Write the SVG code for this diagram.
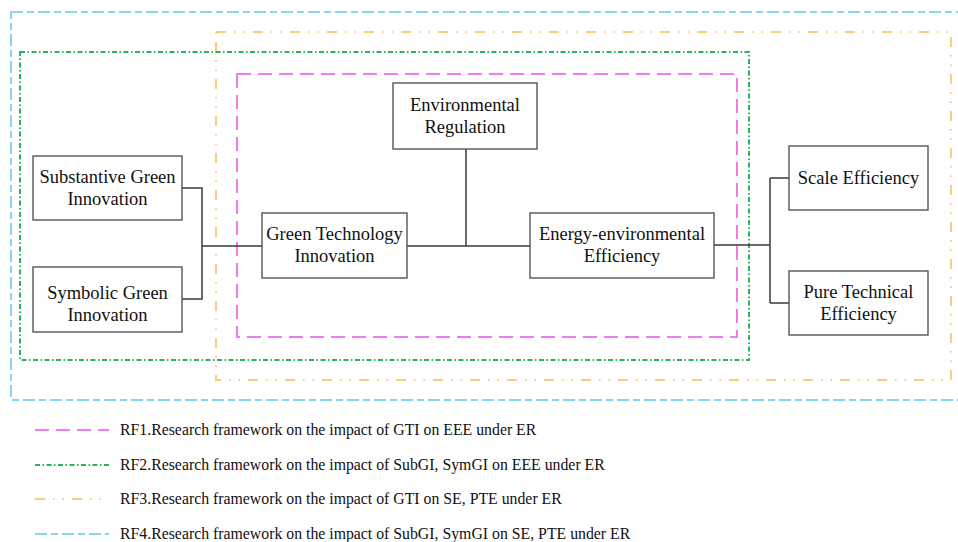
<svg xmlns="http://www.w3.org/2000/svg" width="958" height="542" viewBox="0 0 958 542">
<style>
.frame{fill:none;stroke-width:2}
.rf1{stroke:#f27af0;stroke-dasharray:14 7}
.rf2{stroke:#27b35c;stroke-dasharray:5 2.5 1.5 2.5}
.rf3{stroke:#fbcd78;stroke-dasharray:10 8 1.5 8 1.5 8}
.rf4{stroke:#86d4f4;stroke-dasharray:12 4 7 4}
.box{fill:#fff;stroke:#555;stroke-width:1.4}
.lbl{font-family:"Liberation Serif","Times New Roman",serif;font-size:18.5px;fill:#111;text-anchor:middle}
.leg{font-family:"Liberation Serif","Times New Roman",serif;font-size:15.8px;fill:#111}
.conn{fill:none;stroke:#3a3a3a;stroke-width:1.5}
</style>
<rect width="958" height="542" fill="#fff"/>
<g id="frames">
<rect class="frame rf4" x="11" y="12" width="952" height="388"/>
<rect class="frame rf3" x="216" y="32" width="735" height="348"/>
<rect class="frame rf2" x="20" y="52" width="729" height="308"/>
<rect class="frame rf1" x="237" y="74" width="500" height="263"/>
</g>
<g id="connectors">
<path class="conn" d="M182 188 H202 V299 H182 M202 246 H262"/>
<path class="conn" d="M407 246 H530 M466 149 V246"/>
<path class="conn" d="M714 245 H770 M770 178 V303 M770 178 H789 M770 303 H789"/>
</g>
<g id="node-subgi">
<rect class="box" x="33" y="156" width="149" height="64"/>
<text class="lbl" x="107.5" y="183">Substantive Green</text>
<text class="lbl" x="107.5" y="205">Innovation</text>
</g>
<g id="node-symgi">
<rect class="box" x="33" y="267" width="149" height="65"/>
<text class="lbl" x="107.5" y="299">Symbolic Green</text>
<text class="lbl" x="107.5" y="321">Innovation</text>
</g>
<g id="node-gti">
<rect class="box" x="262" y="213" width="145" height="65"/>
<text class="lbl" x="334.5" y="240">Green Technology</text>
<text class="lbl" x="334.5" y="262">Innovation</text>
</g>
<g id="node-er">
<rect class="box" x="393" y="83" width="144" height="66"/>
<text class="lbl" x="465" y="111">Environmental</text>
<text class="lbl" x="465" y="133">Regulation</text>
</g>
<g id="node-eee">
<rect class="box" x="530" y="213" width="184" height="65"/>
<text class="lbl" x="622" y="240">Energy-environmental</text>
<text class="lbl" x="622" y="262">Efficiency</text>
</g>
<g id="node-se">
<rect class="box" x="789" y="146" width="139" height="64"/>
<text class="lbl" x="858.5" y="184">Scale Efficiency</text>
</g>
<g id="node-pte">
<rect class="box" x="789" y="271" width="139" height="64"/>
<text class="lbl" x="858.5" y="298">Pure Technical</text>
<text class="lbl" x="858.5" y="320">Efficiency</text>
</g>
<g id="legend">
<line class="frame rf1" x1="35" y1="430" x2="109" y2="430" stroke-dasharray="12 7"/>
<text class="leg" x="120" y="435">RF1.Research framework on the impact of GTI on EEE under ER</text>
<line class="frame rf2" x1="35" y1="465" x2="109" y2="465"/>
<text class="leg" x="120" y="470">RF2.Research framework on the impact of SubGI, SymGI on EEE under ER</text>
<line class="frame rf3" x1="35" y1="499" x2="109" y2="499" stroke-dasharray="13 8 1.5 7 1.5 8"/>
<text class="leg" x="120" y="504">RF3.Research framework on the impact of GTI on SE, PTE under ER</text>
<line class="frame rf4" x1="35" y1="534" x2="109" y2="534" stroke-dasharray="35 8 15 5 12"/>
<text class="leg" x="120" y="539">RF4.Research framework on the impact of SubGI, SymGI on SE, PTE under ER</text>
</g>
</svg>
